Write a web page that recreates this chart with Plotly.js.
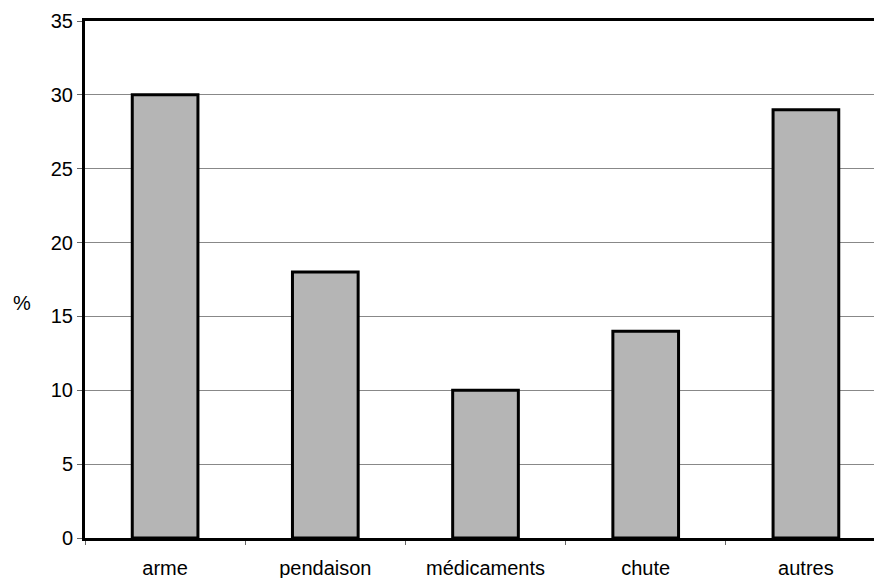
<!DOCTYPE html>
<html>
<head>
<meta charset="utf-8">
<script src="https://cdn.plot.ly/plotly-3.0.1.min.js"></script>
<style>html,body{margin:0;padding:0;background:#fff;}#chart{width:874px;height:578px;}</style>
</head>
<body>
<div id="chart"></div>
<script>
const categories = ["arme", "pendaison", "médicaments", "chute", "autres"];
const values = [30, 18, 10, 14, 29];
const yTicks = [0, 5, 10, 15, 20, 25, 30, 35];
const yLabel = "%";

const trace = {
  type: "bar",
  x: categories,
  y: values,
  width: 0.41,
  marker: { color: "#b5b5b5", line: { color: "#000", width: 3 } },
  hoverinfo: "none"
};

const layout = {
  width: 874,
  height: 578,
  margin: { l: 85, r: 0, t: 21, b: 40 },
  paper_bgcolor: "#fff",
  plot_bgcolor: "#fff",
  font: { family: "Liberation Sans, Arial, sans-serif", size: 20, color: "#000" },
  showlegend: false,
  xaxis: {
    type: "category",
    range: [-0.5, 4.425],
    showline: true,
    linecolor: "#000",
    linewidth: 3,
    mirror: true,
    showgrid: false,
    ticks: "outside",
    tickson: "boundaries",
    ticklen: 4,
    tickcolor: "#666",
    tickwidth: 1,
    ticklabelstandoff: 10,
    tickfont: { size: 20 },
    zeroline: false
  },
  yaxis: {
    range: [0, 35],
    tickvals: yTicks,
    showline: true,
    linecolor: "#000",
    linewidth: 3,
    showgrid: true,
    gridcolor: "#888",
    gridwidth: 1,
    ticks: "outside",
    ticklen: 5,
    tickcolor: "#666",
    tickfont: { size: 20 },
    zeroline: false
  },
  annotations: [{
    text: yLabel,
    xref: "paper", yref: "y",
    x: (22 - 85) / 789, y: 15.9,
    xanchor: "center", yanchor: "middle",
    showarrow: false,
    font: { size: 20 }
  }]
};

Plotly.newPlot("chart", [trace], layout, { staticPlot: true });
</script>
</body>
</html>
